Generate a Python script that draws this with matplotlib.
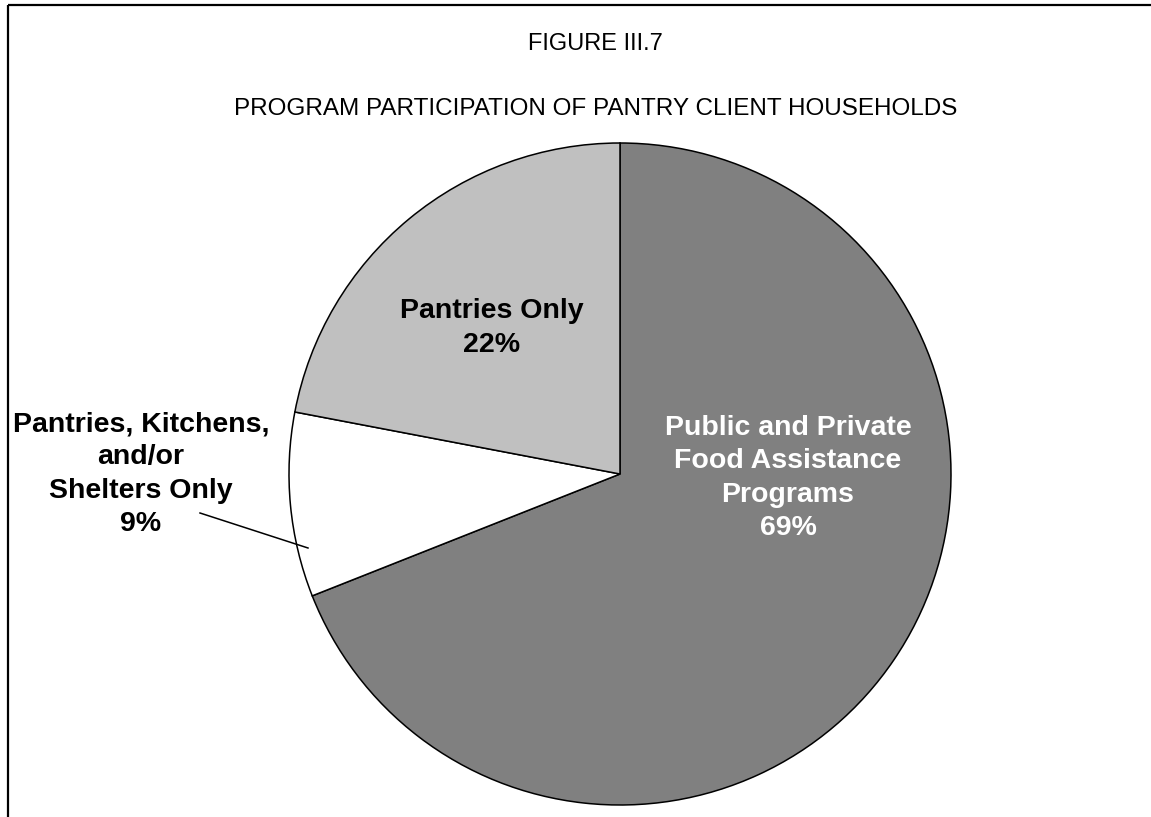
import matplotlib
matplotlib.use('Agg')
import matplotlib.pyplot as plt

# 数据
categories = ['Public and Private\nFood Assistance\nPrograms',
              'Pantries, Kitchens,\nand/or\nShelters Only',
              'Pantries Only']
shares = [69, 9, 22]
slice_colors = ['#808080', '#ffffff', '#c0c0c0']
text_colors = ['white', 'black', 'black']

figure_no = 'FIGURE III.7'
title = 'PROGRAM PARTICIPATION OF PANTRY CLIENT HOUSEHOLDS'

W, H = 1151, 817
plt.rcParams['font.family'] = ['Liberation Sans', 'DejaVu Sans']

fig = plt.figure(figsize=(W / 100, H / 100), dpi=100)
ax = fig.add_axes([0, 0, 1, 1])

# 饼图，从12点方向顺时针
cx, cy, r = 620, H - 474, 331
wedges, _ = ax.pie(shares, colors=slice_colors, startangle=90, counterclock=False,
                   center=(cx, cy), radius=r,
                   wedgeprops=dict(edgecolor='black', linewidth=1.1))

ax.set_xlim(0, W)
ax.set_ylim(0, H)
ax.set_aspect('equal')
ax.axis('off')

# 标签位置（像素坐标，自上而下）
label_pos = [(788, H - 478), (141, H - 474), (492, H - 328)]
for name, val, (x, y), c in zip(categories, shares, label_pos, text_colors):
    ax.text(x, y, f'{name}\n{val}%', ha='center', va='center', color=c,
            fontsize=20.5, fontweight='bold', linespacing=1.36)

# 9%的引线
ax.plot([200, 308], [H - 513, H - 548], color='black', linewidth=1.1)

# 标题
ax.text(595, H - 44, figure_no, ha='center', va='center', fontsize=17)
ax.text(596, H - 109, title, ha='center', va='center', fontsize=17.5)

# 外框（只有上边和左边）
ax.plot([8, W], [H - 5, H - 5], color='black', linewidth=1.6, solid_capstyle='butt')
ax.plot([8, 8], [H - 5, 0], color='black', linewidth=1.6, solid_capstyle='butt')

plt.savefig('out.png', dpi=100)
plt.close()
